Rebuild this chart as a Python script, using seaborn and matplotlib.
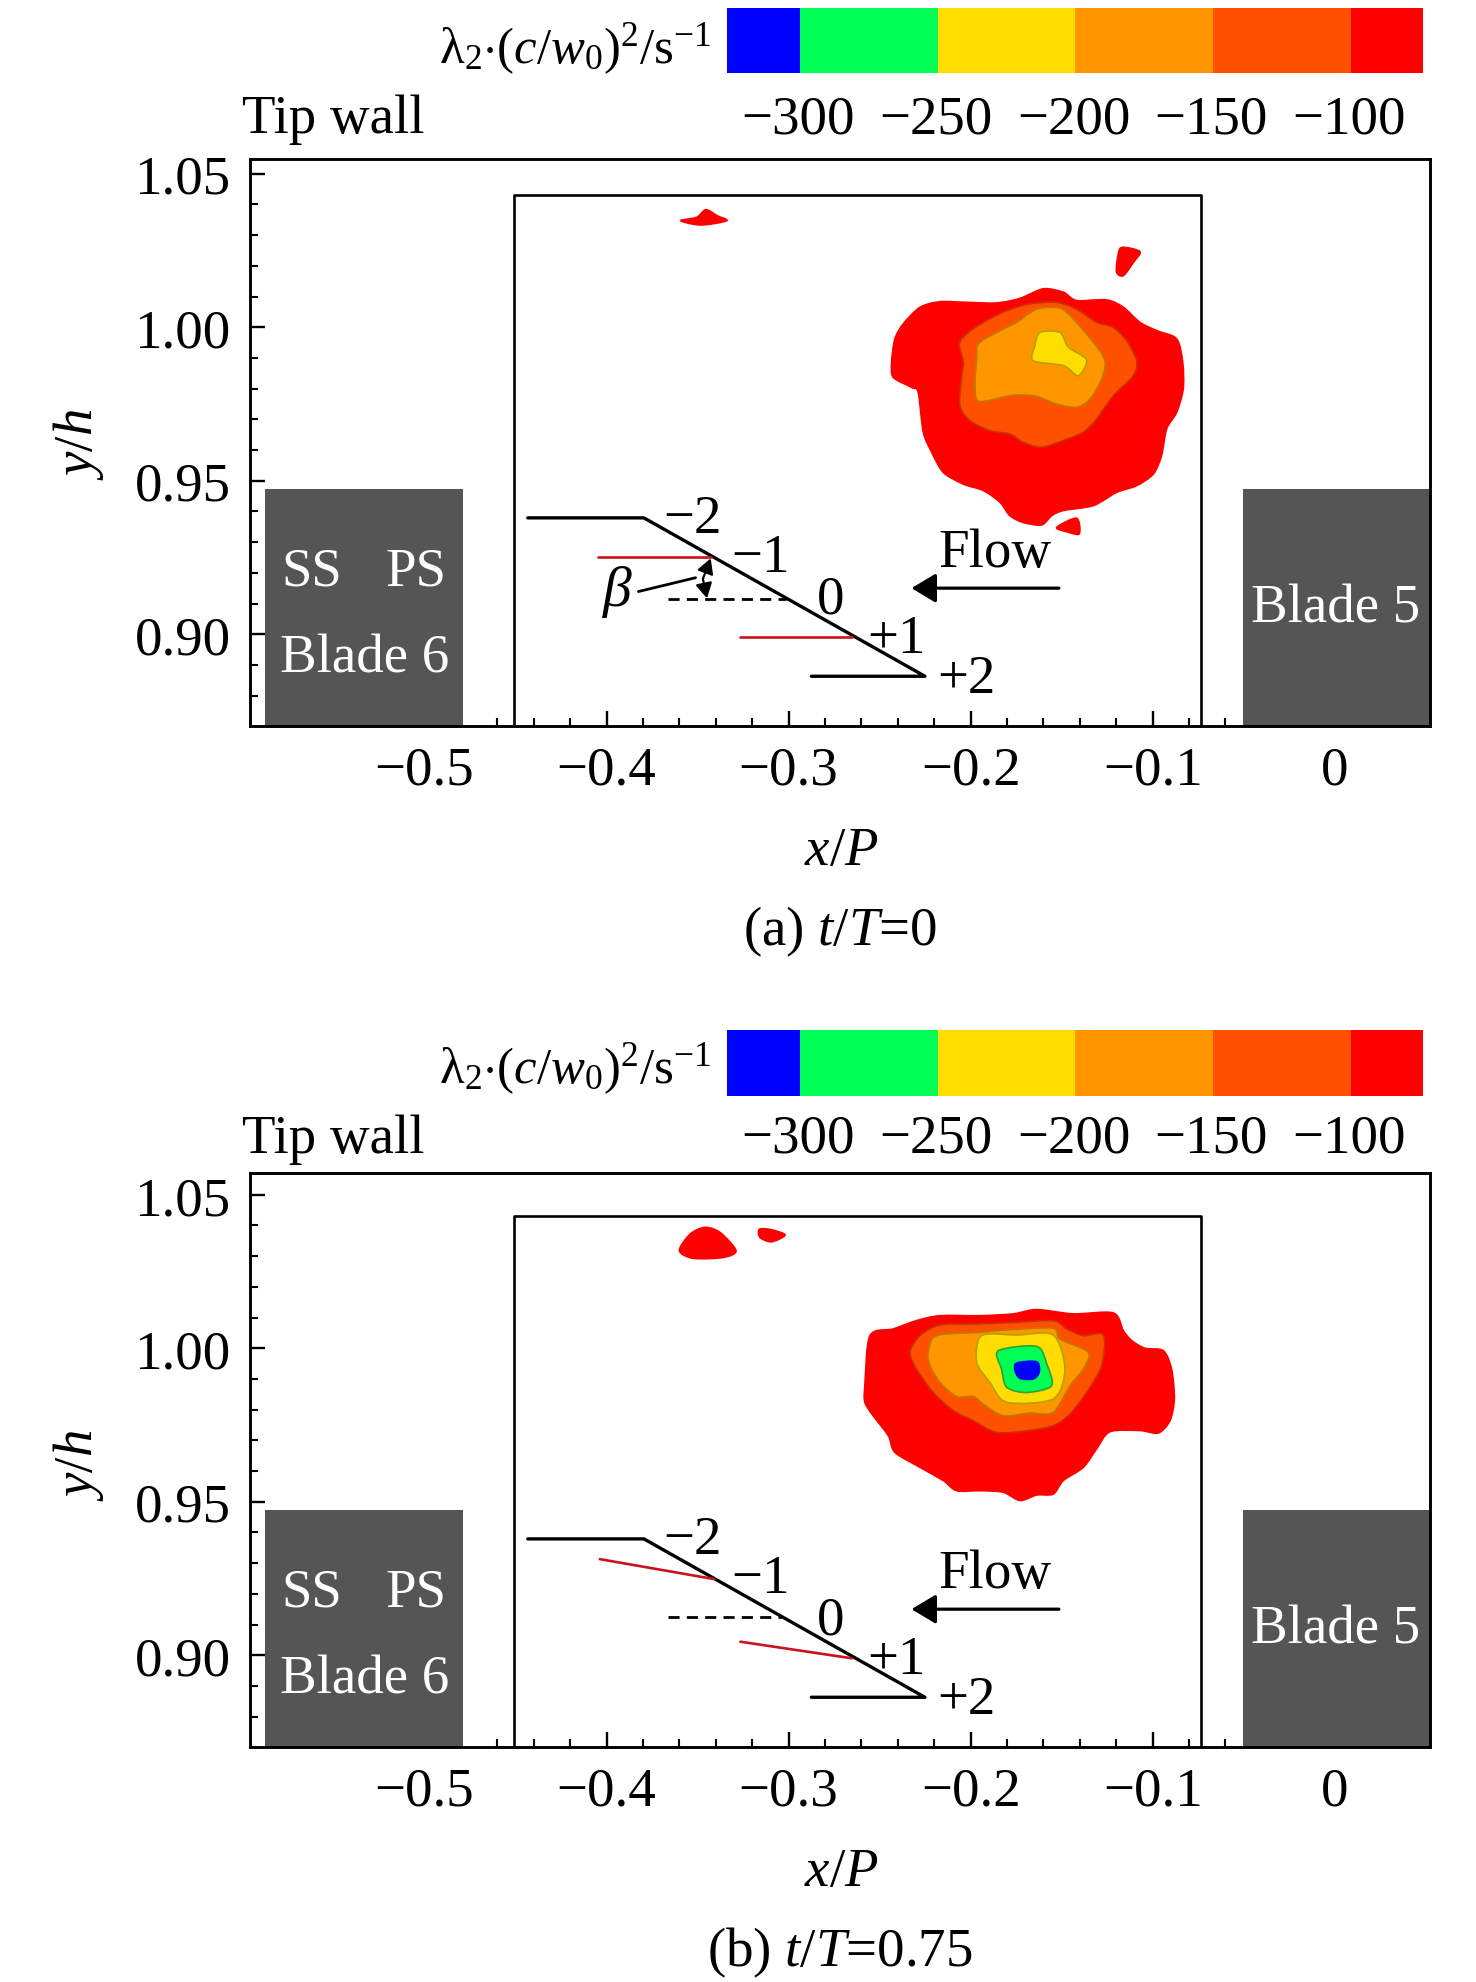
# Vortex core contours at two instants, tip gap region
import matplotlib
matplotlib.use('Agg')
import matplotlib.pyplot as plt
from matplotlib.colors import ListedColormap, BoundaryNorm
from matplotlib.patches import PathPatch
from matplotlib.path import Path
from matplotlib.ticker import MultipleLocator
import numpy as np
import seaborn as sns

W, H = 1476, 1983

# colour levels
levels = [-326.5, -300, -250, -200, -150, -100, -74]
level_colors = ['#0000ff', '#00ff55', '#ffdd00', '#ff9600', '#ff5000', '#ff0000']
level_ticks = [-300, -250, -200, -150, -100]

# (a) t/T=0 contours, x/P then y/h
a_red_x = [-0.2434, -0.2416, -0.2370, -0.2278, -0.2168, -0.2022, -0.1857, -0.1729, -0.1601, -0.1491, -0.1418, -0.1253, -0.1161, -0.1070, -0.0978, -0.0868, -0.0835, -0.0832, -0.0868, -0.0923, -0.0951, -0.0996, -0.1088, -0.1198, -0.1326, -0.1491, -0.1555, -0.1610, -0.1711, -0.1784, -0.1839, -0.1930, -0.2040, -0.2150, -0.2214, -0.2260, -0.2288, -0.2324, -0.2425]
a_red_y = [0.9886, 0.9962, 1.0011, 1.0065, 1.0083, 1.0081, 1.0079, 1.0094, 1.0125, 1.0114, 1.0087, 1.0089, 1.0065, 1.0016, 0.9989, 0.9962, 0.9886, 0.9799, 0.9723, 0.9669, 0.9582, 0.9522, 0.9484, 0.9462, 0.9419, 0.9403, 0.9386, 0.9356, 0.9364, 0.9386, 0.9430, 0.9468, 0.9489, 0.9527, 0.9593, 0.9658, 0.9788, 0.9804, 0.9837]
a_orred_x = [-0.2062, -0.2022, -0.1930, -0.1802, -0.1674, -0.1527, -0.1418, -0.1308, -0.1216, -0.1143, -0.1088, -0.1106, -0.1216, -0.1308, -0.1381, -0.1491, -0.1610, -0.1711, -0.1784, -0.1894, -0.2004, -0.2059, -0.2049, -0.2040]
a_orred_y = [0.9945, 0.9978, 1.0016, 1.0054, 1.0076, 1.0081, 1.0059, 1.0016, 0.9999, 0.9956, 0.9891, 0.9842, 0.9777, 0.9701, 0.9658, 0.9631, 0.9609, 0.9625, 0.9652, 0.9663, 0.9696, 0.9745, 0.9842, 0.9886]
a_orange_x = [-0.1958, -0.1857, -0.1747, -0.1637, -0.1509, -0.1436, -0.1326, -0.1262, -0.1280, -0.1344, -0.1418, -0.1527, -0.1656, -0.1784, -0.1949, -0.1976, -0.1967]
a_orange_y = [0.9945, 0.9983, 1.0016, 1.0059, 1.0062, 1.0027, 0.9951, 0.9891, 0.9831, 0.9766, 0.9739, 0.9750, 0.9777, 0.9777, 0.9758, 0.9799, 0.9897]
a_yellow_x = [-0.1619, -0.1509, -0.1463, -0.1363, -0.1408, -0.1491, -0.1656, -0.1647]
a_yellow_y = [0.9983, 0.9983, 0.9935, 0.9894, 0.9842, 0.9875, 0.9891, 0.9940]
a_blob1_x = [-0.3593, -0.3505, -0.3454, -0.3392, -0.3340, -0.3481]
a_blob1_y = [1.0347, 1.0358, 1.0383, 1.0363, 1.0347, 1.0333]
a_blob2_x = [-0.1170, -0.1070, -0.1106, -0.1161, -0.1198, -0.1192]
a_blob2_y = [1.0260, 1.0246, 1.0211, 1.0168, 1.0179, 1.0228]
a_blob3_x = [-0.1527, -0.1418, -0.1403, -0.1473]
a_blob3_y = [0.9348, 0.9378, 0.9327, 0.9334]

# (b) t/T=0.75 contours
b_red_x = [-0.2581, -0.2553, -0.2425, -0.2297, -0.2169, -0.1949, -0.1766, -0.1637, -0.1436, -0.1216, -0.1161, -0.1115, -0.1042, -0.0941, -0.0896, -0.0881, -0.0905, -0.0969, -0.1070, -0.1235, -0.1308, -0.1381, -0.1491, -0.1546, -0.1637, -0.1729, -0.1821, -0.1949, -0.2077, -0.2150, -0.2278, -0.2416, -0.2452, -0.2535, -0.2581]
b_red_y = [0.9878, 1.0041, 1.0063, 1.0090, 1.0106, 1.0106, 1.0112, 1.0126, 1.0112, 1.0115, 1.0057, 1.0025, 1.0000, 0.9992, 0.9932, 0.9835, 0.9764, 0.9724, 0.9732, 0.9728, 0.9672, 0.9612, 0.9569, 0.9525, 0.9522, 0.9504, 0.9531, 0.9536, 0.9536, 0.9569, 0.9612, 0.9661, 0.9715, 0.9780, 0.9824]
b_orred_x = [-0.2333, -0.2278, -0.2169, -0.1985, -0.1766, -0.1546, -0.1473, -0.1381, -0.1271, -0.1280, -0.1363, -0.1454, -0.1546, -0.1692, -0.1857, -0.1985, -0.2095, -0.2205, -0.2297]
b_orred_y = [0.9987, 1.0041, 1.0076, 1.0079, 1.0084, 1.0090, 1.0063, 1.0041, 1.0043, 0.9943, 0.9856, 0.9786, 0.9748, 0.9731, 0.9726, 0.9764, 0.9797, 0.9856, 0.9932]
b_orange_x = [-0.2233, -0.2187, -0.1949, -0.1766, -0.1546, -0.1509, -0.1354, -0.1381, -0.1454, -0.1546, -0.1674, -0.1821, -0.1930, -0.1985, -0.2077, -0.2169, -0.2223]
b_orange_y = [0.9987, 1.0041, 1.0052, 1.0061, 1.0065, 1.0030, 0.9987, 0.9932, 0.9878, 0.9791, 0.9789, 0.9780, 0.9818, 0.9843, 0.9843, 0.9889, 0.9943]
b_yellow_x = [-0.1940, -0.1747, -0.1546, -0.1482, -0.1546, -0.1802, -0.1894, -0.1967]
b_yellow_y = [1.0041, 1.0043, 1.0043, 0.9932, 0.9835, 0.9824, 0.9889, 0.9954]
b_green_x = [-0.1848, -0.1637, -0.1582, -0.1555, -0.1692, -0.1802, -0.1830]
b_green_y = [0.9992, 1.0006, 0.9949, 0.9878, 0.9856, 0.9873, 0.9932]
b_blue_x = [-0.1747, -0.1637, -0.1623, -0.1656, -0.1729, -0.1756]
b_blue_y = [0.9952, 0.9956, 0.9922, 0.9900, 0.9902, 0.9927]
b_blob1_x = [-0.3600, -0.3541, -0.3459, -0.3376, -0.3289, -0.3358, -0.3523]
b_blob1_y = [1.0318, 1.0372, 1.0394, 1.0377, 1.0318, 1.0296, 1.0293]
b_blob2_x = [-0.3160, -0.3093, -0.3019, -0.3093, -0.3157]
b_blob2_y = [1.0388, 1.0386, 1.0369, 1.0347, 1.0361]

# measuring plane and blade sketch
plane_x = [-0.4433, -0.3795, -0.2251, -0.2875]
plane_y = [0.9379, 0.9379, 0.8863, 0.8863]
a_red1_x, a_red1_y = [-0.4046, -0.3428], [0.9251, 0.9251]
a_red2_x, a_red2_y = [-0.3265, -0.2653], [0.8990, 0.8990]
a_dash_x, a_dash_y = [-0.3660, -0.3016], [0.9115, 0.9115]
b_red1_x, b_red1_y = [-0.4037, -0.3409], [0.9313, 0.9248]
b_red2_x, b_red2_y = [-0.3265, -0.2653], [0.9044, 0.8990]
b_dash_x, b_dash_y = [-0.3660, -0.3036], [0.9125, 0.9125]

plane_labels = ['\u22122', '\u22121', '0', '+1', '+2']
plane_label_x = [-0.3526, -0.3153, -0.2771, -0.2408, -0.2025]
plane_label_y = [0.9376, 0.9249, 0.9115, 0.8985, 0.8855]

xticks = [-0.5, -0.4, -0.3, -0.2, -0.1, 0]
xticklabels = ['\u22120.5', '\u22120.4', '\u22120.3', '\u22120.2', '\u22120.1', '0']
yticks = [0.90, 0.95, 1.00, 1.05]
yticklabels = ['0.90', '0.95', '1.00', '1.05']

sns.set_style('ticks')
plt.rcParams['font.family'] = ['Liberation Serif', 'DejaVu Serif']
plt.rcParams['text.color'] = 'black'
plt.rcParams['xtick.color'] = 'black'
plt.rcParams['ytick.color'] = 'black'
plt.rcParams['mathtext.fontset'] = 'custom'
plt.rcParams['mathtext.rm'] = 'Liberation Serif'
plt.rcParams['mathtext.it'] = 'Liberation Serif:italic'
plt.rcParams['mathtext.default'] = 'rm'

FS = 39.5
fig = plt.figure(figsize=(W / 100, H / 100), dpi=100, facecolor='white')


def px_axes(left, right, top, bottom):
    return fig.add_axes([left / W, 1 - bottom / H, (right - left) / W, (bottom - top) / H])


def smooth_patch(xs, ys, col, edge):
    # closed curve through the read points, the original contours have no corners
    p = np.column_stack([xs, ys])
    n = len(p)
    verts = [p[0]]
    codes = [Path.MOVETO]
    for i in range(n):
        p0, p1, p2, p3 = p[i - 1], p[i], p[(i + 1) % n], p[(i + 2) % n]
        verts += [p1 + (p2 - p0) / 7, p2 - (p3 - p1) / 7, p2]
        codes += [Path.CURVE4] * 3
    return PathPatch(Path(verts, codes), facecolor=col, edgecolor=edge, lw=1.2)


def colorbar_strip(top, bottom, tick_py, label_py):
    cax = px_axes(727, 1422.5, top, bottom)
    cmap = ListedColormap(level_colors)
    norm = BoundaryNorm(levels, cmap.N)
    cax.pcolormesh(levels, [0, 1], [[(levels[i] + levels[i + 1]) / 2 for i in range(6)]], cmap=cmap, norm=norm)
    cax.set_yticks([])
    cax.set_xticks(level_ticks)
    cax.set_xticklabels([])
    cax.tick_params(length=0)
    for s in cax.spines.values():
        s.set_visible(False)
    for v in level_ticks:
        cax.text(v - 0.7, (bottom - tick_py) / (bottom - top), '\u2212%d' % abs(v), fontsize=FS, ha='center', va='baseline')
    fig.text(711 / W, 1 - label_py / H, r'$\lambda_2{\cdot}(\mathit{c}/\mathit{w}_0)^2/\mathrm{s}^{-1}$',
             fontsize=FS - 3, ha='right', va='baseline')


def draw_panel(top, bottom, ylim, contours, lines_red, dash, show_beta):
    ax = px_axes(250, 1429.5, top, bottom)
    ax.set_xlim(-0.5959, 0.0521)
    ax.set_ylim(*ylim)

    # blades
    ax.fill_between([-0.5879, -0.4790], ylim[0], 0.9473, color='#555555', lw=0)
    ax.fill_between([-0.0502, 0.0521], ylim[0], 0.9473, color='#555555', lw=0)

    # contours, outermost first
    for px, py, col, edge in contours:
        ax.add_patch(smooth_patch(px, py, col, edge))

    # measurement window
    sns.lineplot(x=[-0.4509, -0.4509, -0.0735, -0.0735], y=[ylim[0], 1.0430, 1.0430, ylim[0]], sort=False,
                 estimator=None, color='black', lw=1.9, ax=ax, legend=False)

    sns.lineplot(x=plane_x, y=plane_y, sort=False, estimator=None, color='black', lw=2.4, ax=ax)
    for rx, ry in lines_red:
        sns.lineplot(x=rx, y=ry, sort=False, estimator=None, color='#c8141e', lw=1.9, ax=ax)
    ax.plot(dash[0], dash[1], color='black', lw=2, ls=(0, (4, 2.6)))

    for t, lx, ly in zip(plane_labels, plane_label_x, plane_label_y):
        ax.text(lx, ly, t, fontsize=FS, ha='center', va='center')
    ax.text(-0.1868, 0.9266, 'Flow', fontsize=FS, ha='center', va='center')
    ax.annotate('', xy=(-0.2325, 0.9150), xytext=(-0.1515, 0.9150),
                arrowprops=dict(arrowstyle='-|>,head_length=0.75,head_width=0.45', mutation_scale=20, color='black',
                                lw=2.3, shrinkA=0, shrinkB=0))

    if show_beta:
        ax.text(-0.3938, 0.9142, r'$\mathit{\beta}$', fontsize=FS + 2, ha='center', va='center')
        ax.plot([-0.3825, -0.3511], [0.9139, 0.9184], color='black', lw=2)
        for tip in [(-0.3428, 0.9247), (-0.3448, 0.9117)]:
            ax.annotate('', xy=tip, xytext=(-0.3471, 0.9180),
                        arrowprops=dict(arrowstyle='-|>,head_length=0.9,head_width=0.5', mutation_scale=10,
                                        color='black', lw=1.6, shrinkA=0, shrinkB=0))

    # blade names
    ax.text(-0.5618, 0.9206, 'SS', color='white', fontsize=FS, ha='center', va='center')
    ax.text(-0.5047, 0.9206, 'PS', color='white', fontsize=FS, ha='center', va='center')
    ax.text(-0.5327, 0.8923, 'Blade 6', color='white', fontsize=FS, ha='center', va='center')
    ax.text(0.0005, 0.9084, 'Blade 5', color='white', fontsize=FS, ha='center', va='center')

    ax.set_xticks(xticks)
    ax.set_xticklabels(xticklabels, fontsize=FS)
    ax.set_yticks(yticks)
    ax.set_yticklabels(yticklabels, fontsize=FS)
    for lab in ax.get_yticklabels():
        lab.set_verticalalignment('center_baseline')
    ax.xaxis.set_minor_locator(MultipleLocator(0.02))
    ax.yaxis.set_minor_locator(MultipleLocator(0.01))
    ax.tick_params(which='major', direction='in', length=10.5, width=1.7, top=False, right=False)
    ax.tick_params(axis='x', which='major', pad=14)
    ax.tick_params(axis='y', which='major', pad=14)
    ax.tick_params(which='minor', direction='in', length=5.5, width=1.5, top=False, right=False)
    ax.set_xlabel('')
    ax.set_ylabel('')
    for s in ax.spines.values():
        s.set_visible(True)
        s.set_linewidth(2.1)
        s.set_color('black')
    return ax


# panel (a)
colorbar_strip(9, 74, 133, 63)
contours_a = [(a_red_x, a_red_y, '#ff0000', '#ff0000'),
              (a_blob1_x, a_blob1_y, '#ff0000', '#ff0000'),
              (a_blob2_x, a_blob2_y, '#ff0000', '#ff0000'),
              (a_blob3_x, a_blob3_y, '#ff0000', '#ff0000'),
              (a_orred_x, a_orred_y, '#ff5000', '#c83200'),
              (a_orange_x, a_orange_y, '#ff9600', '#c07800'),
              (a_yellow_x, a_yellow_y, '#ffdd00', '#b4a000')]
draw_panel(160, 727, (0.8701, 1.0548), contours_a, [(a_red1_x, a_red1_y), (a_red2_x, a_red2_y)],
           (a_dash_x, a_dash_y), True)

# panel (b)
colorbar_strip(1031, 1097, 1153, 1083)
contours_b = [(b_red_x, b_red_y, '#ff0000', '#ff0000'),
              (b_blob1_x, b_blob1_y, '#ff0000', '#ff0000'),
              (b_blob2_x, b_blob2_y, '#ff0000', '#ff0000'),
              (b_orred_x, b_orred_y, '#ff5000', '#c83200'),
              (b_orange_x, b_orange_y, '#ff9600', '#c07800'),
              (b_yellow_x, b_yellow_y, '#ffdd00', '#b4a000'),
              (b_green_x, b_green_y, '#00ff55', '#30a030'),
              (b_blue_x, b_blue_y, '#0000ff', '#0000ff')]
draw_panel(1174, 1748, (0.8701, 1.0571), contours_b, [(b_red1_x, b_red1_y), (b_red2_x, b_red2_y)],
           (b_dash_x, b_dash_y), False)

# shared text
for tip_py in [133, 1153]:
    fig.text(242 / W, 1 - tip_py / H, 'Tip wall', fontsize=FS, ha='left', va='baseline')
for lab_py in [852, 1873]:
    fig.text(841 / W, 1 - lab_py / H, r'$\mathit{x}/\mathit{P}$', fontsize=FS, ha='center', va='center')
for lab_py in [444, 1465]:
    fig.text(79 / W, 1 - lab_py / H, r'$\mathit{y}/\mathit{h}$', fontsize=FS, ha='center', va='center', rotation=90)
fig.text(840 / W, 1 - 932 / H, r'(a) $\mathit{t}/\mathit{T}$=0', fontsize=FS, ha='center', va='center')
fig.text(840 / W, 1 - 1953 / H, r'(b) $\mathit{t}/\mathit{T}$=0.75', fontsize=FS, ha='center', va='center')

fig.savefig('out.png', dpi=100, facecolor='white')
